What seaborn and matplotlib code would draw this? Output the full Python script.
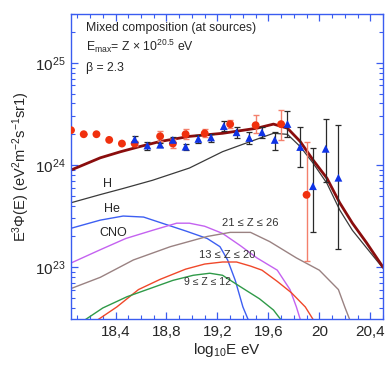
import numpy as np
import pandas as pd
import matplotlib
matplotlib.use("Agg")
import matplotlib.pyplot as plt
import matplotlib.ticker as mticker
import seaborn as sns

# model curves: log10(E) and log10(E^3 Phi)
total_x = [18.05, 18.28, 18.44, 18.59, 18.75, 18.98, 19.24, 19.51, 19.64, 19.75, 19.85, 19.95, 20.06, 20.16, 20.26, 20.37, 20.50]
total_y = [23.95, 24.07, 24.13, 24.18, 24.23, 24.28, 24.31, 24.36, 24.40, 24.36, 24.23, 24.05, 23.87, 23.63, 23.43, 23.24, 23.00]

h_x = [18.05, 18.28, 18.46, 18.69, 18.98, 19.24, 19.46, 19.64, 19.75, 19.85, 19.95, 20.06, 20.16, 20.26, 20.37, 20.50]
h_y = [23.63, 23.71, 23.77, 23.85, 23.97, 24.13, 24.23, 24.31, 24.30, 24.18, 24.02, 23.82, 23.56, 23.36, 23.19, 22.99]

he_x = [18.05, 18.28, 18.46, 18.62, 18.79, 18.96, 19.12, 19.22, 19.28, 19.34, 19.40, 19.47]
he_y = [23.38, 23.46, 23.50, 23.49, 23.42, 23.35, 23.28, 23.20, 23.07, 22.87, 22.61, 22.40]

cno_x = [18.05, 18.28, 18.48, 18.69, 18.88, 18.98, 19.10, 19.24, 19.38, 19.51, 19.67, 19.77, 19.82, 19.86]
cno_y = [23.04, 23.17, 23.28, 23.36, 23.43, 23.43, 23.40, 23.33, 23.21, 23.09, 22.97, 22.78, 22.61, 22.45]

z21_x = [18.05, 18.28, 18.54, 18.83, 19.12, 19.30, 19.46, 19.61, 19.82, 20.00, 20.15, 20.20, 20.25]
z21_y = [22.79, 22.90, 23.07, 23.20, 23.30, 23.34, 23.34, 23.25, 23.09, 22.97, 22.78, 22.61, 22.45]

z13_x = [18.22, 18.41, 18.58, 18.75, 18.95, 19.10, 19.24, 19.35, 19.46, 19.55, 19.67, 19.78, 19.89, 19.97]
z13_y = [22.45, 22.61, 22.78, 22.88, 22.98, 23.03, 23.05, 23.05, 23.01, 22.97, 22.86, 22.75, 22.61, 22.45]

z9_x = [18.12, 18.30, 18.49, 18.67, 18.85, 19.01, 19.14, 19.24, 19.39, 19.53, 19.64, 19.72]
z9_y = [22.45, 22.60, 22.71, 22.79, 22.87, 22.92, 22.94, 22.92, 22.80, 22.69, 22.58, 22.45]

# data points (eV^2 m^-2 s^-1 sr^-1)
red_x = [18.05, 18.15, 18.25, 18.35, 18.45, 18.55, 18.75, 18.85, 18.95, 19.10, 19.30, 19.50, 19.70, 19.90]
red_y = [2.19e24, 2.0e24, 2.0e24, 1.76e24, 1.62e24, 1.62e24, 1.91e24, 1.62e24, 2.0e24, 2.04e24, 2.51e24, 2.45e24, 2.51e24, 5.1e23]
red_lo = [0, 0, 0, 0, 0, 0.08e24, 0.21e24, 0.14e24, 0.22e24, 0.18e24, 0.22e24, 0.39e24, 0.75e24, 3.95e23]
red_hi = [0, 0, 0, 0, 0, 0.08e24, 0.23e24, 0.16e24, 0.24e24, 0.20e24, 0.25e24, 0.64e24, 0.96e24, 1.17e24]

blue_x = [18.55, 18.65, 18.75, 18.85, 18.95, 19.05, 19.15, 19.25, 19.35, 19.45, 19.55, 19.65, 19.75, 19.85, 19.95, 20.05, 20.15]
blue_y = [1.78e24, 1.55e24, 1.58e24, 1.76e24, 1.51e24, 1.80e24, 1.86e24, 2.40e24, 2.09e24, 1.84e24, 2.09e24, 1.76e24, 2.52e24, 1.50e24, 6.2e23, 1.44e24, 7.5e23]
blue_lo = [0.12e24, 0.14e24, 0.07e24, 0.10e24, 0.10e24, 0.16e24, 0.17e24, 0.27e24, 0.24e24, 0.24e24, 0.25e24, 0.36e24, 0.64e24, 0.55e24, 4.0e23, 7.6e23, 6.0e23]
blue_hi = [0.12e24, 0.14e24, 0.07e24, 0.10e24, 0.10e24, 0.16e24, 0.17e24, 0.27e24, 0.24e24, 0.25e24, 0.25e24, 0.34e24, 0.86e24, 0.86e24, 8.5e23, 1.38e24, 1.72e24]

xtick_vals = [18.4, 18.8, 19.2, 19.6, 20.0, 20.4]
xtick_labels = ["18,4", "18,8", "19,2", "19,6", "20", "20,4"]

sns.set_style("ticks")
plt.rcParams["font.family"] = ["Liberation Sans", "DejaVu Sans"]
plt.rcParams["mathtext.fontset"] = "custom"
plt.rcParams["mathtext.rm"] = "Liberation Sans"
plt.rcParams["mathtext.it"] = "Liberation Sans:italic"
plt.rcParams["mathtext.default"] = "regular"

spine_col = "#3a5cf0"

fig = plt.figure(figsize=(3.9, 3.71), dpi=100)
ax = fig.add_axes([0.182, 0.140, 0.800, 0.822])

curves = [
    ("H", h_x, h_y, "#3a3a3a", 0.9),
    ("He", he_x, he_y, "#3d5ff2", 1.0),
    ("CNO", cno_x, cno_y, "#c462f0", 1.0),
    ("21-26", z21_x, z21_y, "#9a8282", 1.0),
    ("13-20", z13_x, z13_y, "#f0482a", 1.0),
    ("9-12", z9_x, z9_y, "#2f9a48", 1.0),
]
for name, xs, ys, col, lw in curves:
    d = pd.DataFrame({"x": xs, "y": 10 ** np.array(ys)})
    sns.lineplot(data=d, x="x", y="y", color=col, lw=lw, sort=False, estimator=None, ax=ax)

d = pd.DataFrame({"x": total_x, "y": 10 ** np.array(total_y)})
sns.lineplot(data=d, x="x", y="y", color="#8a0d0d", lw=2.0, sort=False, estimator=None, ax=ax)

ax.errorbar(red_x, red_y, yerr=[red_lo, red_hi], fmt="none", ecolor="#f4806c",
            elinewidth=1.0, capsize=2, capthick=1.0, zorder=4)
ax.errorbar(blue_x, blue_y, yerr=[blue_lo, blue_hi], fmt="none", ecolor="#2a2a2a",
            elinewidth=0.9, capsize=2, capthick=0.9, zorder=4)
sns.scatterplot(x=red_x, y=red_y, marker="o", s=32, color="#f0300e", edgecolor="none", ax=ax, zorder=5)
sns.scatterplot(x=blue_x, y=blue_y, marker="^", s=32, color="#0f33e6", edgecolor="none", ax=ax, zorder=5)

ax.set_yscale("log")
ax.set_xlim(18.05, 20.5)
ax.set_ylim(3.1e22, 3.0e25)

ax.xaxis.set_major_locator(mticker.FixedLocator(xtick_vals))
ax.xaxis.set_major_formatter(mticker.FixedFormatter(xtick_labels))
ax.xaxis.set_minor_locator(mticker.MultipleLocator(0.1))
ax.yaxis.set_major_locator(mticker.LogLocator(base=10))
ax.yaxis.set_minor_locator(mticker.LogLocator(base=10, subs=np.arange(2, 10)))
ax.yaxis.set_minor_formatter(mticker.NullFormatter())
ax.yaxis.set_major_formatter(mticker.FuncFormatter(lambda v, p: r"$10^{%d}$" % round(np.log10(v))))

ax.tick_params(which="both", direction="in", top=True, right=True, color=spine_col, labelsize=11, pad=4)
ax.tick_params(which="major", length=5, width=0.9)
ax.tick_params(which="minor", length=3, width=0.8)
for s in ax.spines.values():
    s.set_color(spine_col)
    s.set_linewidth(1.0)

ax.set_xlabel(r"log$_{10}$E eV", fontsize=11, labelpad=2)
ax.set_ylabel(r"E$^3\Phi$(E) (eV$^2$m$^{-2}$s$^{-1}$sr1)", fontsize=10.5, labelpad=2)

ax.text(0.048, 0.955, "Mixed composition (at sources)", transform=ax.transAxes, fontsize=8.8, va="center")
ax.text(0.048, 0.893, r"E$_{max}$= Z × 10$^{20.5}$ eV", transform=ax.transAxes, fontsize=8.8, va="center")
ax.text(0.048, 0.823, "β = 2.3", transform=ax.transAxes, fontsize=8.8, va="center")

ax.text(18.34, 10 ** 23.81, "H", fontsize=9, ha="center", va="center")
ax.text(18.37, 10 ** 23.57, "He", fontsize=9, ha="center", va="center")
ax.text(18.38, 10 ** 23.33, "CNO", fontsize=9, ha="center", va="center")
ax.text(19.46, 10 ** 23.43, "21 ≤ Z ≤ 26", fontsize=8, ha="center", va="center", color="#333333")
ax.text(19.28, 10 ** 23.12, "13 ≤ Z ≤ 20", fontsize=8, ha="center", va="center", color="#333333")
ax.text(19.12, 10 ** 22.85, "9 ≤ Z ≤ 12", fontsize=7.5, ha="center", va="center", color="#333333")

fig.savefig("out.png", dpi=100)
